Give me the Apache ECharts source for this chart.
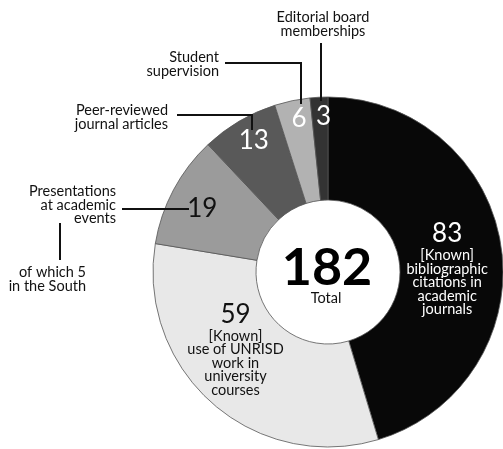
<!DOCTYPE html>
<html>
<head>
<meta charset="utf-8">
<script src="https://cdn.jsdelivr.net/npm/echarts@6/dist/echarts.min.js"></script>
<style>html,body{margin:0;padding:0;background:#fff;}#c{width:503px;height:449px;}</style>
</head>
<body>
<div id="c"></div>
<script>
// ---- data ----
const categories = [
  "[Known] bibliographic citations in academic journals",
  "[Known] use of UNRISD work in university courses",
  "Presentations at academic events",
  "Peer-reviewed journal articles",
  "Student supervision",
  "Editorial board memberships"
];
const values = [83, 59, 19, 13, 6, 3];
const totalLabel = "182";
const totalCaption = "Total";
const insideDescriptions = [
  "[Known]\nbibliographic\ncitations in\nacademic\njournals",
  "[Known]\nuse of UNRISD\nwork in\nuniversity\ncourses",
  "", "", "", ""
];

// ---- styles ----
const FONT = "Lato, 'Open Sans', sans-serif";
const colors = ["#080808", "#e8e8e8", "#9b9b9b", "#595959", "#b2b2b2", "#333333"];
const labelColors = ["#fff", "#111", "#111", "#fff", "#fff", "#fff"];
const labelOffsets = [[-6, 14], [-9, -19], [-14, -4], [-10, -22], [-3, -30], [2, -29]];
const CX = 328, CY = 272, R0 = 72, R1 = 175;

const chart = echarts.init(document.getElementById('c'), null, {renderer: 'canvas'});

const data = values.map((v, i) => ({
  name: categories[i],
  value: v,
  itemStyle: {color: colors[i]},
  label: {
    color: labelColors[i],
    offset: labelOffsets[i],
    formatter: insideDescriptions[i] ? '{n|{c}}\n{d|' + insideDescriptions[i].split('\n').join('}\n{d|') + '}' : '{n|{c}}',
    rich: {
      n: {fontSize: 26, fontFamily: FONT, color: labelColors[i], lineHeight: 30, align: 'center'},
      d: {fontSize: 14.5, fontFamily: FONT, color: labelColors[i], lineHeight: 13.5, align: 'center'}
    }
  }
}));

function txt(x, y, text, align) {
  return {type: 'text', x: x, y: y, style: {text: text, font: '14.5px ' + FONT, fill: '#111', align: align, verticalAlign: 'top', lineHeight: 13.5}, z: 10};
}
function line(points) {
  return {type: 'polyline', shape: {points: points}, style: {stroke: '#111', lineWidth: 2, fill: null}, z: 10};
}

chart.setOption({
  animation: false,
  backgroundColor: '#fff',
  series: [{
    type: 'pie',
    center: [CX, CY],
    radius: [R0, R1],
    startAngle: 90,
    clockwise: true,
    avoidLabelOverlap: false,
    itemStyle: {borderColor: '#555', borderWidth: 0.8},
    label: {show: true, position: 'inside'},
    labelLine: {show: false},
    emphasis: {disabled: true},
    data: data
  }],
  graphic: [
    {type: 'text', x: CX - 1, y: CY - 4, style: {text: totalLabel, font: 'bold 52px ' + FONT, fill: '#000', align: 'center', verticalAlign: 'middle'}, z: 10},
    {type: 'text', x: CX - 2, y: CY + 26, style: {text: totalCaption, font: '14.5px ' + FONT, fill: '#111', align: 'center', verticalAlign: 'middle'}, z: 10},
    txt(323, 11, "Editorial board\nmemberships", 'center'),
    line([[321, 43], [321, 101]]),
    txt(219, 51, "Student\nsupervision", 'right'),
    line([[225, 63], [301, 63], [301, 104]]),
    txt(168, 104, "Peer-reviewed\njournal articles", 'right'),
    line([[177, 115], [252, 115], [252, 130]]),
    txt(116, 185, "Presentations\nat academic\nevents", 'right'),
    line([[122, 209], [189, 209]]),
    line([[60, 223], [60, 260]]),
    txt(86, 266, "of which 5\nin the South", 'right')
  ]
});
</script>
</body>
</html>
